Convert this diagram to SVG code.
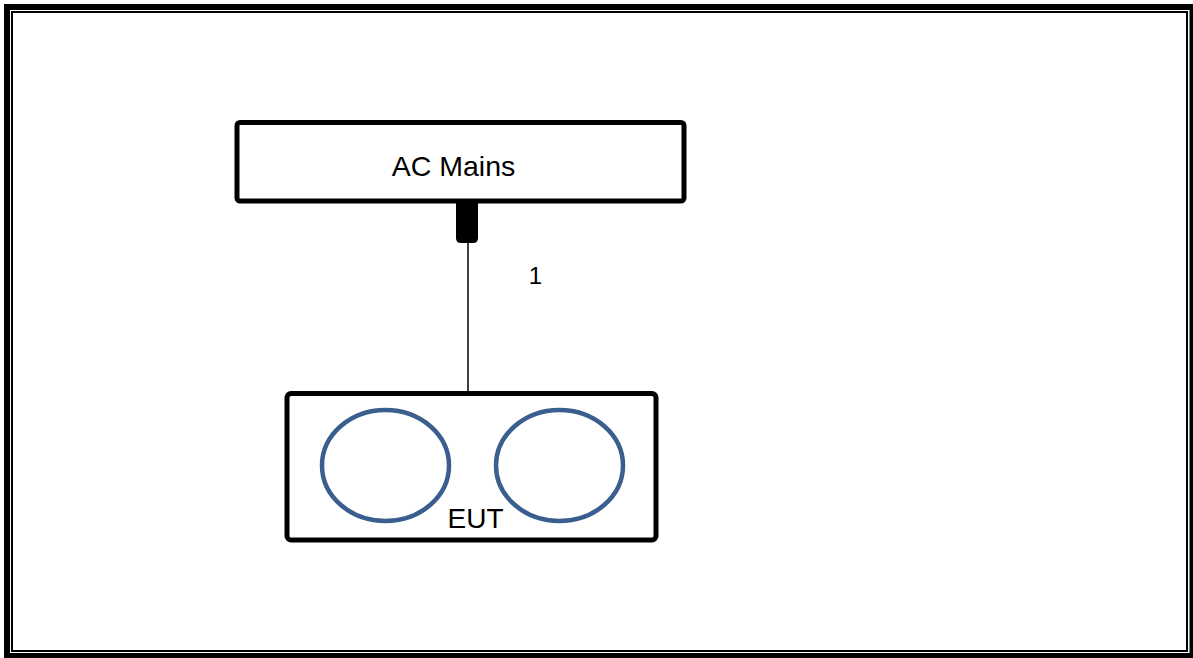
<svg xmlns="http://www.w3.org/2000/svg" width="1193" height="658" viewBox="0 0 1193 658">
  <style>
    .frame-outer { fill: none; stroke: #000; stroke-width: 6; }
    .frame-inner { fill: none; stroke: #000; stroke-width: 2; }
    .box { fill: #fff; stroke: #000; stroke-width: 5; }
    .port { fill: none; stroke: #3a5f8e; stroke-width: 4.5; }
    .label { font-family: "Liberation Sans", Arial, sans-serif; fill: #000; text-anchor: middle; }
    .wire { stroke: #000; stroke-width: 1.5; fill: none; }
  </style>
  <rect width="1193" height="658" fill="#fff"/>
  <!-- double page frame -->
  <rect class="frame-outer" x="7" y="7" width="1185.5" height="649"/>
  <rect class="frame-inner" x="12" y="12" width="1175" height="639"/>

  <g id="connectors">
    <line class="wire" x1="468" y1="240" x2="468" y2="392"/>
    <text class="label" x="535.5" y="284" font-size="24">1</text>
  </g>

  <g id="ac-mains">
    <rect class="box" x="237" y="122.5" width="447" height="78.5" rx="3"/>
    <text class="label" x="453.5" y="176" font-size="28.5">AC Mains</text>
    <!-- plug at the bottom edge -->
    <path d="M456 201 H478 V238 Q478 243 473 243 H461 Q456 243 456 238 Z" fill="#000"/>
  </g>

  <g id="eut">
    <rect class="box" x="287" y="393.5" width="369" height="146.5" rx="4"/>
    <ellipse class="port" cx="385.5" cy="465.5" rx="63.5" ry="55.5"/>
    <ellipse class="port" cx="559.5" cy="465.5" rx="63.5" ry="55.5"/>
    <text class="label" x="475.5" y="528" font-size="28">EUT</text>
  </g>
</svg>
